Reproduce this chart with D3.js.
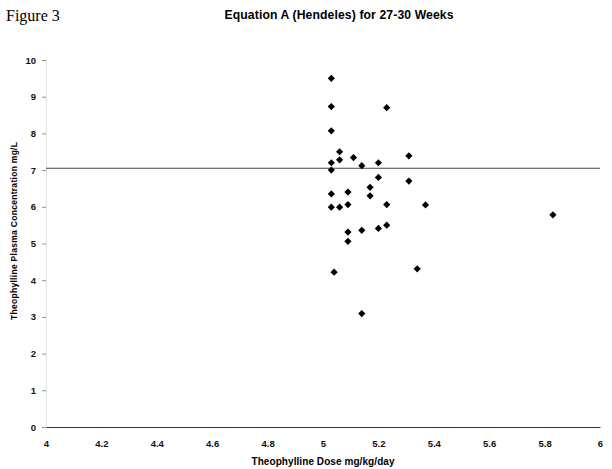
<!DOCTYPE html>
<html><head><meta charset="utf-8">
<script src="https://cdn.jsdelivr.net/npm/d3@7"></script>
<style>body{margin:0;background:#fff;} svg{display:block;}</style>
</head><body>
<svg id="c" width="612" height="469"></svg>
<script>
const doses = [5.03,5.03,5.03,5.06,5.03,5.06,5.11,5.23,5.14,5.20,5.31,5.03,5.20,5.17,5.31,5.03,5.09,5.17,5.03,5.06,5.09,5.23,5.37,5.09,5.14,5.20,5.23,5.09,5.04,5.34,5.14,5.83];
const concs = [9.50,8.73,8.07,7.50,7.20,7.28,7.34,8.70,7.12,7.20,7.39,7.00,6.80,6.53,6.70,6.35,6.40,6.30,5.99,5.99,6.06,6.06,6.05,5.31,5.36,5.41,5.50,5.06,4.22,4.31,3.09,5.78];
const refLevel = 7.05;
const xTicks = [4,4.2,4.4,4.6,4.8,5,5.2,5.4,5.6,5.8,6];
const yTicks = [0,1,2,3,4,5,6,7,8,9,10];

const svg = d3.select("#c");
const x = d3.scaleLinear().domain([4,6]).range([46,600]);
const y = d3.scaleLinear().domain([0,10]).range([427,60]);
const font = "Liberation Sans, Arial, sans-serif";

svg.append("text").attr("x",6).attr("y",21).attr("font-family","Liberation Serif, Times New Roman, serif")
  .attr("font-size",16).text("Figure 3");
svg.append("text").attr("x",339).attr("y",19).attr("text-anchor","middle").attr("font-family",font)
  .attr("font-weight","bold").attr("font-size",12.2).attr("textLength",229).text("Equation A (Hendeles) for 27-30 Weeks");

// x axis
const xAxis = d3.axisBottom(x).tickValues(xTicks).tickSize(0).tickPadding(13).tickFormat(d3.format("~g"));
const gx = svg.append("g").attr("transform",`translate(0,${y(0)})`).call(xAxis);
gx.select(".domain").attr("stroke","#333").attr("stroke-width",1.2);
gx.selectAll("text").attr("font-family",font).attr("font-weight","bold").attr("font-size",9.5).attr("fill","#111");

// y axis
const yAxis = d3.axisLeft(y).tickValues(yTicks).tickSize(4).tickPadding(6);
const gy = svg.append("g").attr("transform",`translate(${x(4)},0)`).call(yAxis);
gy.select(".domain").attr("stroke","#ccc").attr("stroke-width",0.6);
gy.selectAll(".tick line").attr("stroke","#777").attr("stroke-width",0.8);
gy.selectAll("text").attr("font-family",font).attr("font-weight","bold").attr("font-size",9.5).attr("fill","#111");

svg.append("text").attr("x",323).attr("y",465).attr("text-anchor","middle").attr("font-family",font)
  .attr("font-weight","bold").attr("font-size",10).attr("textLength",143).text("Theophylline Dose mg/kg/day");
svg.append("text").attr("transform",`translate(17,231) rotate(-90)`).attr("text-anchor","middle")
  .attr("font-family",font).attr("font-weight","bold").attr("font-size",8.5).attr("textLength",178).text("Theophylline Plasma Concentration mg/L");

// reference line
svg.append("line").attr("x1",x(4)).attr("x2",x(6)).attr("y1",y(refLevel)).attr("y2",y(refLevel))
  .attr("stroke","#444").attr("stroke-width",1);

// points
const sym = d3.symbol().type(d3.symbolSquare).size(26);
svg.append("g").selectAll("path").data(doses.map((d,i)=>[d,concs[i]])).join("path")
  .attr("d",sym).attr("transform",d=>`translate(${x(d[0])},${y(d[1])}) rotate(45)`).attr("fill","#000");
</script>
</body></html>
